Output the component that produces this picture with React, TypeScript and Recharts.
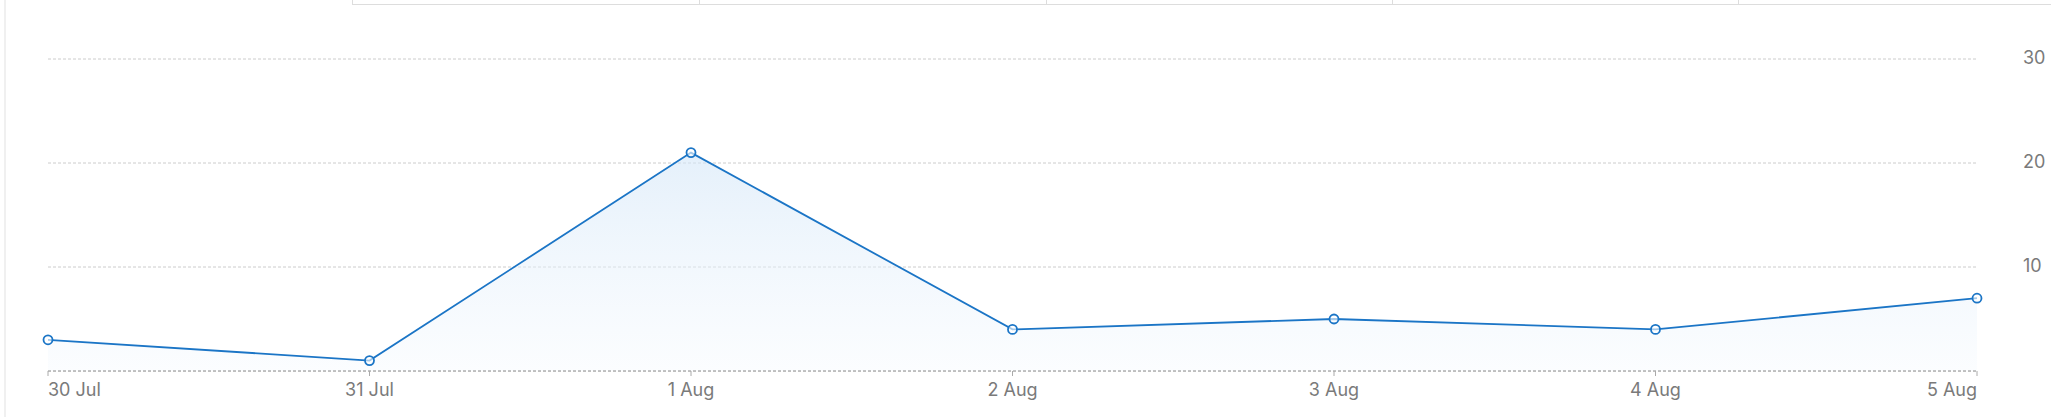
import { Area, AreaChart, CartesianGrid, XAxis, YAxis } from "recharts";

const days = ["30 Jul", "31 Jul", "1 Aug", "2 Aug", "3 Aug", "4 Aug", "5 Aug"];
const counts = [3, 1, 21, 4, 5, 4, 7];
const yTicks = [0, 10, 20, 30];
const headerDividers = [352, 699, 1046, 1392, 1738];

const data = days.map((day, i) => ({ day, count: counts[i] }));

const BLUE = "#1b75c6";
const TEXT = "#7a7a7a";
const FONT = "Inter, 'Noto Sans', sans-serif";

function DayTick(props: any) {
  const { x, y, payload, index } = props;
  const last = days.length - 1;
  const anchor = index === 0 ? "start" : index === last ? "end" : "middle";
  return (
    <text
      x={x}
      y={y + 18}
      textAnchor={anchor}
      fill={TEXT}
      fontSize={18}
      fontFamily={FONT}
    >
      {payload.value}
    </text>
  );
}

function CountTick(props: any) {
  const { x, y, payload } = props;
  if (payload.value === 0) return null;
  return (
    <text
      x={x}
      y={y + 5}
      textAnchor="start"
      fill={TEXT}
      fontSize={18}
      fontFamily={FONT}
    >
      {payload.value}
    </text>
  );
}

export default function App() {
  return (
    <div style={{ position: "relative", width: 2051, height: 417, background: "#fff" }}>
      <style>{"body{margin:0}"}</style>
      <div
        style={{
          position: "absolute",
          left: 4,
          top: 0,
          width: 2,
          height: 417,
          background: "#f0f0f0",
        }}
      />
      <div
        style={{
          position: "absolute",
          left: 352,
          top: 0,
          right: 0,
          height: 4,
          borderBottom: "1px solid #dddddd",
        }}
      />
      {headerDividers.map((x) => (
        <div
          key={x}
          style={{
            position: "absolute",
            left: x,
            top: 0,
            width: 1,
            height: 5,
            background: "#dddddd",
          }}
        />
      ))}
      <AreaChart
        width={2051}
        height={417}
        data={data}
        margin={{ top: 59, right: 0, bottom: 0, left: 48 }}
        style={{ position: "absolute", left: 0, top: 0 }}
      >
        <defs>
          <linearGradient id="countFill" x1="0" y1="0" x2="0" y2="1">
            <stop offset="0%" stopColor="#d3e6f8" stopOpacity={1} />
            <stop offset="100%" stopColor="#f6fafe" stopOpacity={0.7} />
          </linearGradient>
        </defs>
        <CartesianGrid
          vertical={false}
          stroke="#cccccc"
          strokeDasharray="3 2"
        />
        <XAxis
          dataKey="day"
          height={46}
          interval={0}
          padding={{ left: 0, right: 0 }}
          axisLine={{ stroke: "#999999", strokeDasharray: "3 2" }}
          tickLine={{ stroke: "#aaaaaa" }}
          tickSize={5}
          tick={<DayTick />}
        />
        <YAxis
          orientation="right"
          width={74}
          domain={[0, 30]}
          ticks={yTicks}
          axisLine={false}
          tickLine={false}
          tickSize={0}
          tickMargin={46}
          tick={<CountTick />}
        />
        <Area
          type="linear"
          dataKey="count"
          stroke={BLUE}
          strokeWidth={1.8}
          fill="url(#countFill)"
          dot={{ r: 4.5, fill: "#ffffff", stroke: BLUE, strokeWidth: 1.8 }}
          activeDot={false}
          isAnimationActive={false}
        />
      </AreaChart>
    </div>
  );
}
